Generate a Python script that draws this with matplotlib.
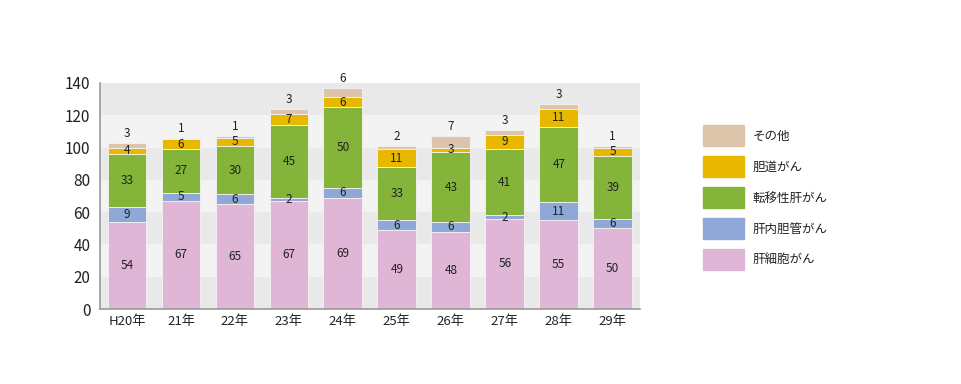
import numpy as np
import matplotlib.pyplot as plt
from matplotlib.patches import Rectangle

plt.rcParams['font.family'] = ['Noto Sans CJK JP', 'DejaVu Sans']

years = ['H20年', '21年', '22年', '23年', '24年', '25年', '26年', '27年', '28年', '29年']
names = ['肝細胞がん', '肝内胆管がん', '転移性肝がん', '胆道がん', 'その他']
hcc = [54, 67, 65, 67, 69, 49, 48, 56, 55, 50]
icc = [9, 5, 6, 2, 6, 6, 6, 2, 11, 6]
meta = [33, 27, 30, 45, 50, 33, 43, 41, 47, 39]
bile = [4, 6, 5, 7, 6, 11, 3, 9, 11, 5]
other = [3, 1, 1, 3, 6, 2, 7, 3, 3, 1]
colors = ['#dfb6d6', '#8fa8d8', '#84b43a', '#e8b800', '#dcc5ab']

series = [hcc, icc, meta, bile, other]

fig = plt.figure(figsize=(9.62, 3.84), dpi=100)
ax = fig.add_axes([0.104, 0.195, 0.561, 0.589])

# background bands
for i, lo in enumerate(range(0, 140, 20)):
    ax.axhspan(lo, lo + 20, color='#e9e9e9' if i % 2 == 0 else '#f3f3f3', zorder=0, lw=0)

x = np.arange(len(years))
bottom = np.zeros(len(years))
for k, vals in enumerate(series):
    vals = np.array(vals)
    ax.bar(x, vals, 0.72, bottom=bottom, color=colors[k], edgecolor='#f4f4f4',
           linewidth=0.6, zorder=2)
    for xi, b, v in zip(x, bottom, vals):
        if k == 4:
            ax.text(xi, b + v + 1.8, str(v), ha='center', va='bottom', fontsize=8.5,
                    color='#222222', clip_on=False, zorder=3)
        else:
            ax.text(xi, b + v / 2, str(v), ha='center', va='center', fontsize=8.5,
                    color='#222222', zorder=3)
    bottom = bottom + vals

ax.set_xlim(-0.5, len(years) - 0.5)
ax.set_ylim(0, 140)
ax.set_yticks(range(0, 141, 20))
ax.set_xticks(x)
ax.set_xticklabels(years, fontsize=9.5)
ax.tick_params(axis='y', labelsize=11, length=0, pad=7, labelcolor='#222222')
ax.tick_params(axis='x', length=0, pad=4, labelcolor='#222222')
for s in ['top', 'right']:
    ax.spines[s].set_visible(False)
ax.spines['left'].set_color('#999999')
ax.spines['bottom'].set_color('#999999')
ax.spines['left'].set_linewidth(1.2)
ax.spines['bottom'].set_linewidth(1.2)

# legend drawn by hand
W, H = 962, 384
for i, k in enumerate(range(4, -1, -1)):
    top = 125 + i * 31
    fig.patches.append(Rectangle((703 / W, 1 - (top + 21) / H), 41 / W, 21 / H,
                                 transform=fig.transFigure, color=colors[k]))
    fig.text(753 / W, 1 - (top + 11) / H, names[k], fontsize=9, va='center', ha='left',
             color='#222222')

fig.savefig('out.png', dpi=100)
